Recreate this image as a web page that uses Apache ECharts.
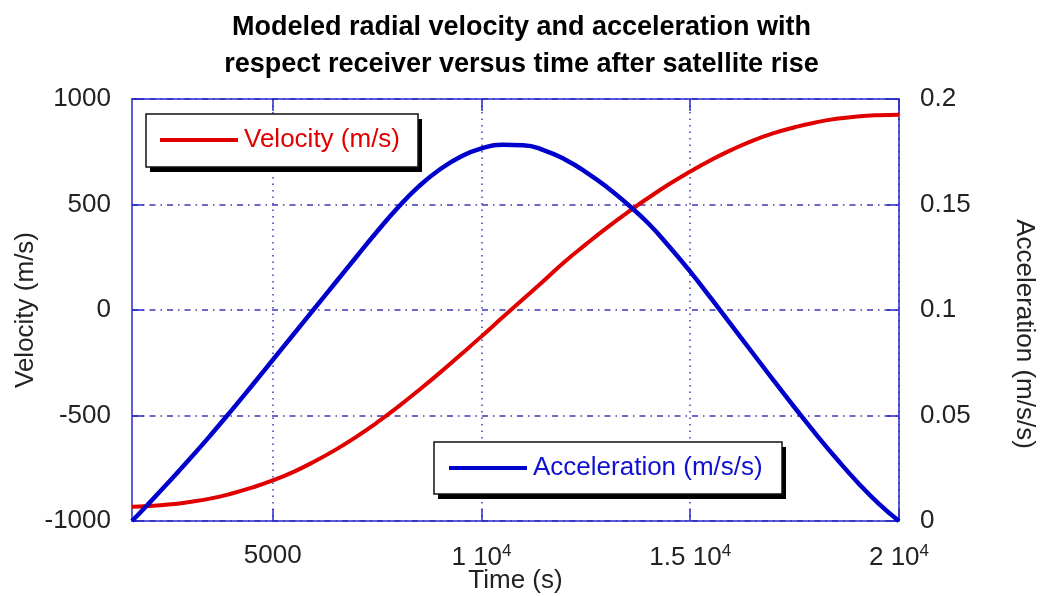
<!DOCTYPE html>
<html>
<head>
<meta charset="utf-8">
<script src="https://cdn.jsdelivr.net/npm/echarts@6/dist/echarts.min.js"></script>
<style>
html, body { margin: 0; padding: 0; background: #fff; }
#container { width: 1043px; height: 596px; }
</style>
</head>
<body>
<div id="container"></div>
<script>
// time after satellite rise (s)
const timeS = [1630, 2000, 2500, 3000, 3500, 4000, 4500, 5000, 5500, 6000, 6500, 7000, 7500,
  8000, 8500, 9000, 9500, 10000, 10500, 11000, 11500, 12000, 12500, 13000, 13500, 14000,
  14500, 15000, 15500, 16000, 16500, 17000, 17500, 18000, 18500, 19000, 19500, 20000];
// radial velocity (m/s)
const velocity = [-932, -929, -922, -910, -894, -871, -842, -808, -767, -718, -663, -601, -533,
  -459, -380, -298, -212, -125, -36, 52, 140, 230, 311, 389, 463, 532,
  597, 656, 711, 760, 803, 838, 866, 889, 906, 917, 923, 925];
// radial acceleration (m/s/s)
const acceleration = [0, 0.0076, 0.0182, 0.0291, 0.0404, 0.0521, 0.0641, 0.0763, 0.0885, 0.1007, 0.1129, 0.1251, 0.1372,
  0.1486, 0.1586, 0.1666, 0.1726, 0.1766, 0.1783, 0.1781, 0.1757, 0.1713, 0.1654, 0.1583, 0.1501, 0.1410,
  0.1300, 0.1182, 0.1055, 0.0925, 0.0795, 0.0665, 0.0538, 0.0414, 0.0296, 0.0185, 0.0085, 0];
const timeTicks = [5000, 10000, 15000, 20000];

const font = 'Liberation Sans, Arial, sans-serif'
const frame = '#2828c8'
const gridDash = '#3a3ab4'

let myChart = echarts.init(document.getElementById('container'), null, { renderer: 'canvas' })

const tickLabel = v => {
  if (v < 10000) return String(v)
  return (v / 10000) + ' 10{sup|4}'
}

// framed legend box with a hard drop shadow
const legendBox = (x, y, w, h) => ({
  type: 'group',
  z: 1,
  children: [
    { type: 'rect', shape: { x: x + 4, y: y + 5, width: w, height: h }, style: { fill: '#000' }, z: 1 },
    { type: 'rect', shape: { x: x, y: y, width: w, height: h }, style: { fill: '#fff', stroke: '#111', lineWidth: 1.5 }, z: 1 },
  ],
})

let option = {
  animation: false,
  textStyle: { fontFamily: font },
  title: {
    text: 'Modeled radial velocity and acceleration with\nrespect receiver versus time after satellite rise',
    left: 'center',
    top: 4,
    textStyle: { fontSize: 27, fontWeight: 'bold', color: '#000', lineHeight: 37, fontFamily: font },
  },
  grid: { left: 132, right: 144, top: 99, bottom: 75, outerBoundsMode: 'none', containLabel: false },
  graphic: [
    legendBox(146, 114, 272, 53),
    legendBox(434, 442, 348, 52),
  ],
  legend: [
    {
      data: ['Velocity (m/s)'],
      left: 160, top: 127,
      padding: 0,
      z: 10,
      itemWidth: 78, itemHeight: 4, itemGap: 5,
      icon: 'rect',
      textStyle: { color: '#e00000', fontSize: 26, fontFamily: font, padding: [0, 0, 0, 1] },
    },
    {
      data: ['Acceleration (m/s/s)'],
      left: 449, top: 455,
      padding: 0,
      z: 10,
      itemWidth: 78, itemHeight: 4, itemGap: 5,
      icon: 'rect',
      textStyle: { color: '#1010d0', fontSize: 26, fontFamily: font, padding: [0, 0, 0, 1] },
    },
  ],
  xAxis: [
    {
      type: 'value',
      min: 1630,
      max: 20000,
      name: 'Time (s)',
      nameLocation: 'middle',
      nameGap: 47,
      nameMoveOverlap: false,
      nameTextStyle: { fontSize: 26, color: '#222' },
      axisLine: { onZero: false, lineStyle: { color: frame, width: 1.5 } },
      axisTick: { inside: true, length: 12, customValues: timeTicks, lineStyle: { color: frame, width: 1.5 } },
      axisLabel: {
        customValues: timeTicks,
        margin: 22,
        fontSize: 26,
        color: '#222',
        formatter: tickLabel,
        rich: { sup: { fontSize: 17, verticalAlign: 'top', color: '#222', padding: [0, 0, 12, 0] } },
      },
      splitLine: { show: true, lineStyle: { color: gridDash, width: 1.5, type: [1.5, 5] } },
    },
    {
      type: 'value',
      position: 'top',
      min: 1630,
      max: 20000,
      axisLine: { show: true, onZero: false, lineStyle: { color: frame, width: 1.5 } },
      axisTick: { show: true, inside: true, length: 12, customValues: timeTicks, lineStyle: { color: frame, width: 1.5 } },
      axisLabel: { show: false },
      splitLine: { show: false },
    },
  ],
  yAxis: [
    {
      type: 'value',
      min: -1000,
      max: 1000,
      interval: 500,
      name: 'Velocity (m/s)',
      nameLocation: 'middle',
      nameGap: 93,
      nameMoveOverlap: false,
      nameTextStyle: { fontSize: 26, color: '#222' },
      axisLine: { show: true, onZero: false, lineStyle: { color: frame, width: 1.5 } },
      axisTick: { show: true, inside: true, length: 12, lineStyle: { color: frame, width: 1.5 } },
      axisLabel: { margin: 21, fontSize: 26, color: '#222', formatter: v => String(v) },
      splitLine: { show: true, lineStyle: { color: gridDash, width: 1.5, type: [6, 5, 1.5, 5] } },
    },
    {
      type: 'value',
      min: 0,
      max: 0.2,
      interval: 0.05,
      name: 'Acceleration (m/s/s)',
      nameLocation: 'middle',
      nameRotate: -90,
      nameGap: 112,
      nameMoveOverlap: false,
      nameTextStyle: { fontSize: 26, color: '#222', padding: [0, 0, 0, 48] },
      axisLine: { show: true, onZero: false, lineStyle: { color: frame, width: 1.5 } },
      axisTick: { show: true, inside: true, length: 12, lineStyle: { color: frame, width: 1.5 } },
      axisLabel: { margin: 21, fontSize: 26, color: '#222', formatter: v => String(+v.toFixed(2)) },
      splitLine: { show: false },
    },
  ],
  series: [
    {
      name: 'Velocity (m/s)',
      type: 'line',
      xAxisIndex: 0,
      yAxisIndex: 0,
      smooth: true,
      showSymbol: false,
      z: 3,
      color: '#e00000',
      lineStyle: { width: 4, color: '#e00000' },
      data: timeS.map((t, i) => [t, velocity[i]]),
    },
    {
      name: 'Acceleration (m/s/s)',
      type: 'line',
      xAxisIndex: 0,
      yAxisIndex: 1,
      smooth: true,
      showSymbol: false,
      z: 3,
      color: '#0000cc',
      lineStyle: { width: 4.5, color: '#0000cc' },
      data: timeS.map((t, i) => [t, acceleration[i]]),
    },
  ],
}
myChart.setOption(option)
</script>
</body>
</html>
